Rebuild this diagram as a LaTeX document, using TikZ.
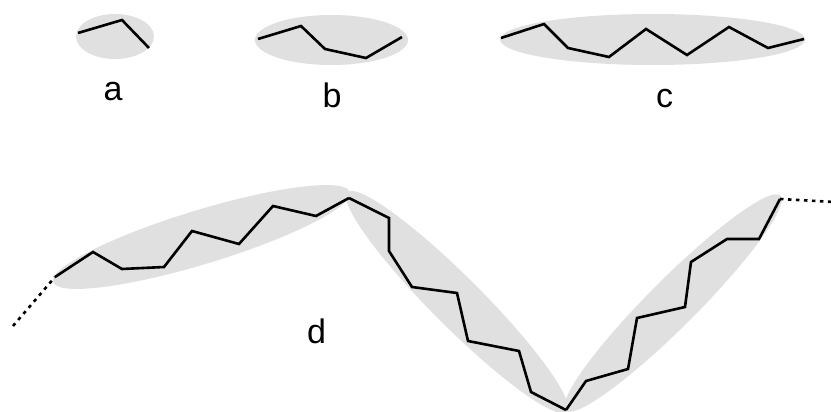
\documentclass[tikz,border=0pt]{standalone}
\usepackage{fontspec}
\setmainfont{Liberation Sans}
\usetikzlibrary{arrows}

\begin{document}
\begin{tikzpicture}[x=1pt,y=-1pt,
	blob/.style={fill=black!12},
	chain/.style={line width=2.6pt, black, line join=miter},
	loose/.style={line width=2.6pt, black, dash pattern=on 3.5pt off 4.5pt},
	lbl/.style={anchor=base, inner sep=0pt, font=\fontsize{34}{40}\selectfont}]

	\useasboundingbox (0,0) rectangle (831,412);

	%short, middle and long chains, each in one blob
	\fill[blob] (115,36.5) ellipse (39 and 22.5);
	\fill[blob] (331.5,40) ellipse (76.5 and 25);
	\fill[blob] (652.5,39.5) ellipse (152.5 and 25.5);
	\draw[chain] (78,33) -- (122,20) -- (149,48);
	\draw[chain] (258,39) -- (301,26) -- (325,49) -- (366,58) -- (402,37);
	\draw[chain] (501,38) -- (544,24) -- (568,48) -- (609,57) -- (646,29) -- (687,55) -- (729,27) -- (768,48) -- (804,39);
	\node[lbl] (labelA) at (113,101) {a};
	\node[lbl] (labelB) at (332,108) {b};
	\node[lbl] (labelC) at (664.5,107) {c};

	%long chain made of three blobs
	\coordinate (tailLeft) at (13,326);
	\coordinate (startD) at (55,277);
	\coordinate (peakD) at (349,198);
	\coordinate (valleyD) at (566,410);
	\coordinate (endD) at (780,199);
	\coordinate (tailRight) at (834,202);
	%blob fills
	\begin{scope}[shift={(201.5,237)}, rotate=16.9]
		\fill[blob] (0,0) ellipse (155 and 27);
	\end{scope}
	\begin{scope}[shift={(457,302)}, rotate=-45]
		\fill[blob] (0,0) ellipse (155 and 25);
	\end{scope}
	\begin{scope}[shift={(673,303)}, rotate=45]
		\fill[blob] (0,0) ellipse (152 and 24);
	\end{scope}
	%chain segments
	\draw[chain] (startD) -- (93,252) -- (122,269) -- (164,267) -- (192,231) -- (239,244) -- (273,206) -- (316,216) -- (peakD);
	\draw[chain] (peakD) -- (389,218) -- (389,251) -- (412,287) -- (457,293) -- (468,341) -- (519,351) -- (531,392) -- (valleyD);
	\draw[chain] (valleyD) -- (586,381) -- (628,369) -- (637,318) -- (685,307) -- (691,262) -- (727,239) -- (759,239) -- (endD);
	%loose ends
	\draw[loose] (tailLeft) -- (startD);
	\draw[loose] (endD) -- (tailRight);
	\node[lbl] (labelD) at (316.5,343) {d};

\end{tikzpicture}
\end{document}
